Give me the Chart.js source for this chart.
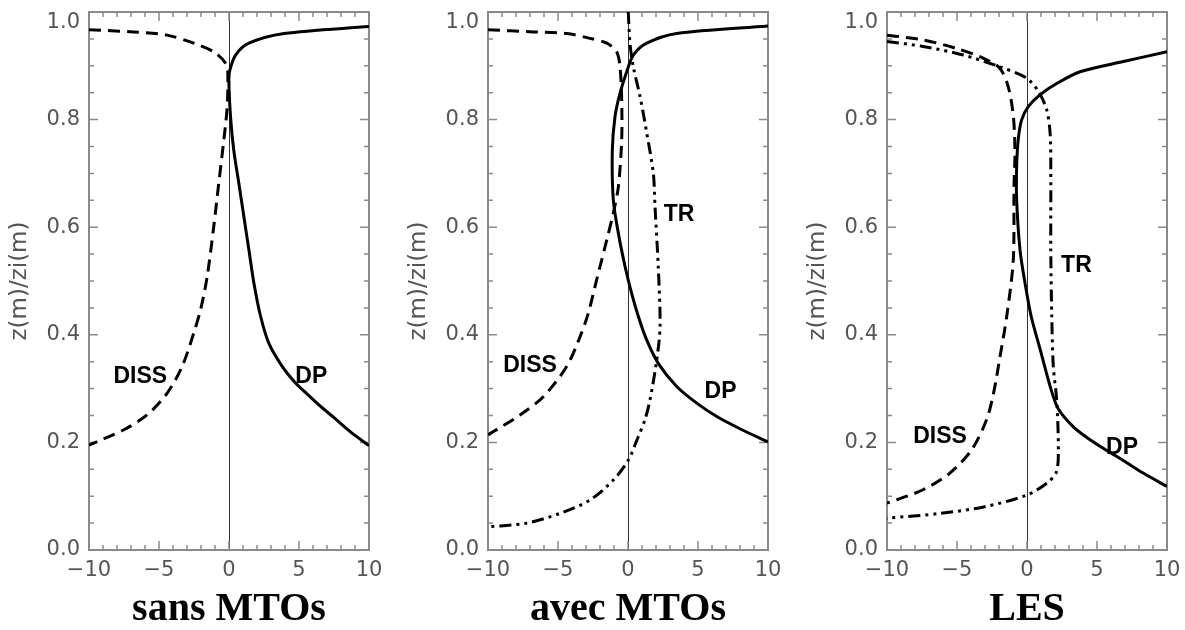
<!DOCTYPE html>
<html>
<head>
<meta charset="utf-8">
<script src="https://cdn.jsdelivr.net/npm/chart.js@4.4.1/dist/chart.umd.min.js"></script>
<style>
    body { margin: 0; background: #fff; width: 1185px; height: 630px; overflow: hidden; position: relative; }
    .panel { position: absolute; top: 0; width: 400px; height: 630px; }
</style>
</head>
<body>
<div class="panel" style="left:0px"><canvas id="sans" width="400" height="630"></canvas></div>
<div class="panel" style="left:399px"><canvas id="avec" width="400" height="630"></canvas></div>
<div class="panel" style="left:798px"><canvas id="les" width="400" height="630"></canvas></div>
<script>
// axes
const xTicks = [-10, -5, 0, 5, 10];
const zTicks = [0, 0.2, 0.4, 0.6, 0.8, 1.0];
const panelTitles = ['sans MTOs', 'avec MTOs', 'LES'];

// sans MTOs
const sansDP_x = [10, 3.93, 1.42, 0.47, 0.06, -0.01, 0.11, 0.34, 0.70, 1.06, 1.42, 1.78, 2.26, 2.85, 3.81, 4.77, 5.5, 6.5, 7.5, 8.7, 10];
const sansDP_z = [0.973, 0.960, 0.942, 0.920, 0.892, 0.874, 0.805, 0.743, 0.682, 0.620, 0.558, 0.496, 0.434, 0.384, 0.341, 0.310, 0.292, 0.268, 0.246, 0.219, 0.194];
const sansDISS_x = [-10, -6.82, -4.43, -2.52, -1.09, -0.25, -0.09, -0.13, -0.37, -0.73, -1.09, -1.56, -2.0, -2.52, -3.35, -4.43, -5.86, -7.54, -10];
const sansDISS_z = [0.967, 0.963, 0.957, 0.942, 0.926, 0.905, 0.889, 0.824, 0.762, 0.682, 0.601, 0.508, 0.450, 0.403, 0.341, 0.291, 0.251, 0.223, 0.195];

// avec MTOs
const avecDP_x = [10, 3.48, 1.34, 0.38, -0.09, -0.57, -0.93, -1.12, -1.05, -0.69, -0.21, 0.26, 0.74, 1.34, 2.16, 3.48, 4.91, 6.34, 8.1, 10];
const avecDP_z = [0.974, 0.960, 0.942, 0.920, 0.889, 0.849, 0.805, 0.743, 0.651, 0.589, 0.527, 0.477, 0.434, 0.390, 0.347, 0.304, 0.273, 0.248, 0.224, 0.201];
const avecDISS_x = [-10, -6.76, -4.38, -2.71, -1.52, -0.81, -0.57, -0.45, -0.45, -0.69, -1.05, -1.52, -2.24, -2.84, -3.43, -4.38, -6.05, -7.71, -10];
const avecDISS_z = [0.967, 0.963, 0.960, 0.951, 0.942, 0.926, 0.898, 0.836, 0.762, 0.675, 0.626, 0.576, 0.502, 0.440, 0.396, 0.341, 0.285, 0.251, 0.214];
const avecTR_x = [0.02, 0.14, 0.38, 0.86, 1.34, 1.81, 1.93, 2.16, 2.29, 2.05, 1.57, 1.21, 0.74, 0.02, -1.05, -2.71, -4.86, -7.24, -10];
const avecTR_z = [1.0, 0.942, 0.898, 0.843, 0.775, 0.700, 0.638, 0.527, 0.415, 0.353, 0.279, 0.242, 0.211, 0.167, 0.130, 0.093, 0.068, 0.050, 0.043];

// LES
const lesDP_x = [10, 6.89, 3.79, 2.12, 0.92, 0.09, -0.39, -0.63, -0.74, -0.74, -0.50, -0.14, 0.30, 0.95, 1.70, 2.24, 3.31, 4.5, 5.7, 6.9, 8.3, 10];
const lesDP_z = [0.926, 0.908, 0.889, 0.867, 0.846, 0.824, 0.799, 0.762, 0.712, 0.651, 0.558, 0.496, 0.434, 0.372, 0.300, 0.262, 0.229, 0.205, 0.185, 0.166, 0.143, 0.118];
const lesDISS_x = [-10, -7.40, -5.01, -3.10, -1.93, -1.34, -0.97, -0.86, -0.93, -0.98, -1.45, -1.93, -2.40, -2.89, -3.96, -5.51, -7.42, -10];
const lesDISS_z = [0.957, 0.948, 0.932, 0.914, 0.895, 0.861, 0.805, 0.737, 0.675, 0.539, 0.434, 0.359, 0.290, 0.242, 0.186, 0.143, 0.112, 0.087];
const lesTR_x = [-10, -7.42, -4.55, -1.93, -0.02, 0.82, 1.41, 1.65, 1.70, 1.70, 1.77, 1.88, 2.12, 2.24, 2.10, 1.41, -0.02, -3.10, -6.20, -10];
const lesTR_z = [0.945, 0.936, 0.920, 0.898, 0.877, 0.852, 0.818, 0.775, 0.712, 0.558, 0.434, 0.341, 0.279, 0.186, 0.145, 0.124, 0.102, 0.080, 0.068, 0.059];

// curve labels (text, x, z)
const sansLabels = [['DISS', -6.34, 0.322], ['DP', 5.88, 0.322]];
const avecLabels = [['TR', 3.64, 0.623], ['DISS', -7.0, 0.342], ['DP', 6.61, 0.294]];
const lesLabels = [['TR', 3.53, 0.528], ['DISS', -6.21, 0.210], ['DP', 6.79, 0.191]];

const DASH = [12, 7];
const DASH_DOT_DOT = [12, 5, 3, 5, 3, 5];

function serie(xs, zs, dash) {
    return {
        data: xs.map((x, i) => ({ x: x, y: zs[i] })),
        showLine: true,
        borderColor: '#000',
        borderWidth: 3,
        borderDash: dash,
        pointRadius: 0,
        tension: 0.3,
        fill: false
    };
}

// ticks drawn inside the frame, IDL style
const cadre = {
    id: 'cadre',
    beforeDatasetsDraw(chart) {
        const { ctx, chartArea: a, scales: { x, y } } = chart;
        ctx.save();
        ctx.strokeStyle = '#8a8a8a';
        ctx.lineWidth = 1.5;
        ctx.beginPath();
        for (let v = -10; v <= 10; v++) {
            const px = x.getPixelForValue(v);
            const len = v % 5 === 0 ? 9 : 5;
            ctx.moveTo(px, a.bottom); ctx.lineTo(px, a.bottom - len);
            ctx.moveTo(px, a.top); ctx.lineTo(px, a.top + len);
        }
        for (let i = 0; i <= 20; i++) {
            const py = y.getPixelForValue(i * 0.05);
            const len = i % 4 === 0 ? 9 : 5;
            ctx.moveTo(a.left, py); ctx.lineTo(a.left + len, py);
            ctx.moveTo(a.right, py); ctx.lineTo(a.right - len, py);
        }
        ctx.stroke();
        ctx.lineWidth = 2;
        ctx.strokeRect(a.left, a.top, a.width, a.height);
        ctx.restore();
    }
};

const etiquettes = {
    id: 'etiquettes',
    afterDatasetsDraw(chart, args, opts) {
        const { ctx, scales: { x, y } } = chart;
        ctx.save();
        ctx.fillStyle = '#000';
        ctx.font = 'bold 23px "Liberation Sans", Arial, sans-serif';
        ctx.textAlign = 'center';
        ctx.textBaseline = 'middle';
        opts.items.forEach(([txt, vx, vz]) => {
            ctx.fillText(txt, x.getPixelForValue(vx), y.getPixelForValue(vz));
        });
        ctx.restore();
    }
};

const tickFont = { family: '"DejaVu Sans", sans-serif', size: 21, lineHeight: 1 };

function makePanel(id, title, datasets, labels) {
    return new Chart(document.getElementById(id), {
        type: 'scatter',
        data: { datasets: datasets },
        options: {
            responsive: false,
            animation: false,
            layout: { padding: { top: 12, right: 31, bottom: 0, left: 0 } },
            plugins: {
                legend: { display: false },
                tooltip: { enabled: false },
                etiquettes: { items: labels }
            },
            scales: {
                x: {
                    type: 'linear',
                    min: -10,
                    max: 10,
                    afterFit: s => { s.height = 80; s.paddingLeft = 0; s.paddingRight = 0; },
                    afterBuildTicks: s => { s.ticks = xTicks.map(v => ({ value: v })); },
                    border: { display: false },
                    grid: {
                        drawTicks: false,
                        lineWidth: 1,
                        color: c => (c.tick && c.tick.value === 0 ? '#333' : 'rgba(0,0,0,0)')
                    },
                    ticks: {
                        padding: 10,
                        color: '#555',
                        font: tickFont,
                        maxRotation: 0,
                        autoSkip: false,
                        callback: v => (v < 0 ? '\u2212' + Math.abs(v) : String(v))
                    },
                    title: {
                        display: true,
                        text: title,
                        color: '#000',
                        padding: 0,
                        font: { family: '"Liberation Serif", "Times New Roman", serif', size: 40, weight: 'bold', lineHeight: 1 }
                    }
                },
                y: {
                    min: 0,
                    max: 1,
                    afterFit: s => { s.width = 89; s.paddingTop = 0; s.paddingBottom = 0; },
                    afterBuildTicks: s => { s.ticks = zTicks.map(v => ({ value: v })); },
                    border: { display: false },
                    grid: { display: false, drawTicks: false },
                    ticks: {
                        padding: 9,
                        color: '#555',
                        font: tickFont,
                        // le 1.0 est décalé vers le bas comme sur l'original
                        callback: v => (v === 1 ? ['', '1.0'] : v.toFixed(1))
                    },
                    title: {
                        display: true,
                        text: 'z(m)/zi(m)',
                        color: '#555',
                        padding: { top: 6, bottom: 0 },
                        font: { family: '"DejaVu Sans", sans-serif', size: 23, lineHeight: 1.2 }
                    }
                }
            }
        },
        plugins: [cadre, etiquettes]
    });
}

makePanel('sans', panelTitles[0], [
    serie(sansDISS_x, sansDISS_z, DASH),
    serie(sansDP_x, sansDP_z, [])
], sansLabels);

makePanel('avec', panelTitles[1], [
    serie(avecDISS_x, avecDISS_z, DASH),
    serie(avecTR_x, avecTR_z, DASH_DOT_DOT),
    serie(avecDP_x, avecDP_z, [])
], avecLabels);

makePanel('les', panelTitles[2], [
    serie(lesDISS_x, lesDISS_z, DASH),
    serie(lesTR_x, lesTR_z, DASH_DOT_DOT),
    serie(lesDP_x, lesDP_z, [])
], lesLabels);
</script>
</body>
</html>
